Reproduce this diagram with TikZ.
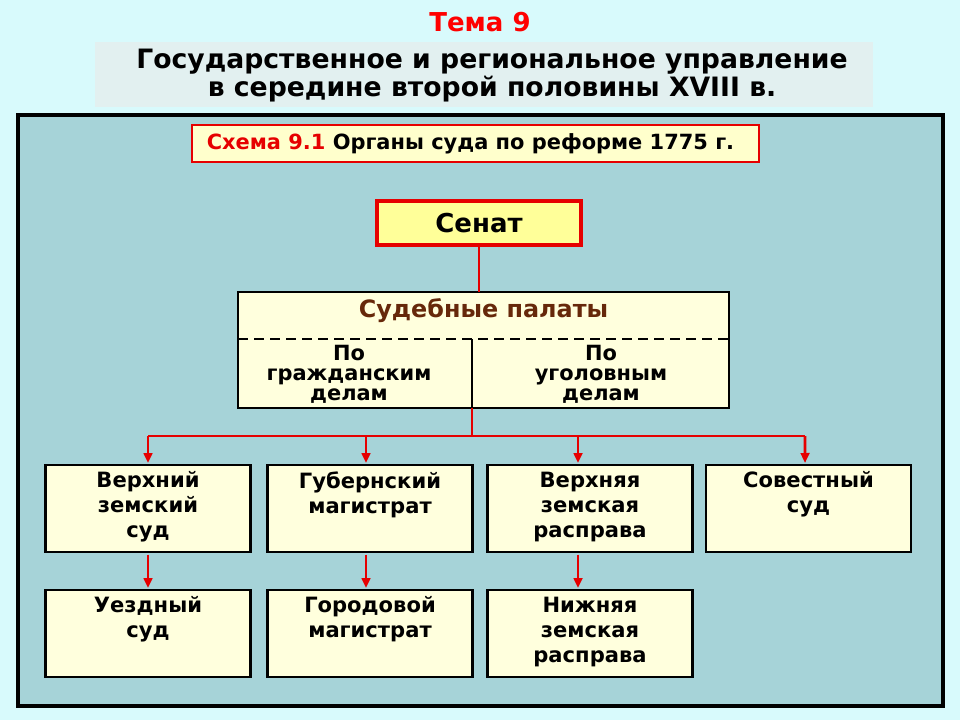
\documentclass[tikz,border=0pt]{standalone}
\usepackage{fontspec}
\setmainfont{DejaVu Sans}
\usetikzlibrary{arrows.meta}
\definecolor{bgc}{RGB}{216,250,252}
\definecolor{hdrc}{RGB}{226,240,240}
\definecolor{mainc}{RGB}{166,211,216}
\definecolor{creamc}{RGB}{255,255,221}
\definecolor{senc}{RGB}{255,255,153}
\definecolor{schc}{RGB}{255,255,204}
\definecolor{redc}{RGB}{230,0,0}
\definecolor{brownc}{RGB}{102,40,10}
\begin{document}
\begin{tikzpicture}[x=0.75pt,y=-0.75pt,
  every node/.style={inner sep=0pt, outer sep=0pt},
  rbox/.style={draw=black, line width=2.2pt, fill=creamc, minimum width=205*0.75pt,
     minimum height=87*0.75pt, align=center, font=\bfseries\fontsize{15.8pt}{18.75pt}\selectfont,
     execute at begin node=\strut, execute at end node=\strut},
  conn/.style={draw=redc, line width=2.2pt},
  arr/.style={conn, -{Triangle[length=7.5pt, width=6.5pt]}}]
\useasboundingbox (0,0) rectangle (960,720);
\fill[bgc] (0,0) rectangle (960,720);
% title
\node[text=red, font=\bfseries\fontsize{19.5pt}{22pt}\selectfont] (tema) at (480,22) {Тема 9};
\node[fill=hdrc, minimum width=778*0.75pt, minimum height=65*0.75pt] (hdr) at (484,74.5) {};
\node[align=center, font=\bfseries\fontsize{20pt}{21pt}\selectfont] (hdrtext) at (492,76) {Государственное и региональное управление\\в середине второй половины XVIII в.};
% main panel
\draw[fill=mainc, line width=2.4pt] (18,115) rectangle (943,706);
% scheme caption
\node[draw=redc, line width=0.8pt, fill=schc, minimum width=567*0.75pt, minimum height=37*0.75pt] (sch) at (475.5,143.5) {};
\node[font=\bfseries\fontsize{15.7pt}{17pt}\selectfont] (schtext) at (470.5,144)
  {\textcolor{redc}{Схема 9.1} Органы суда по реформе 1775 г.};
% Senat
\node[draw=redc, line width=2.4pt, fill=senc, minimum width=204*0.75pt, minimum height=44*0.75pt,
  font=\bfseries\fontsize{19.5pt}{22pt}\selectfont] (senat) at (479,223) {Сенат};
% palaty
\node[draw=black, line width=2.2pt, fill=creamc, minimum width=491*0.75pt, minimum height=116*0.75pt] (pal) at (483.5,350) {};
\node[text=brownc, font=\bfseries\fontsize{17.9pt}{20pt}\selectfont] (paltitle) at (483.5,311) {Судебные палаты};
\coordinate (dl) at (238,339);
\coordinate (dr) at (729,339);
\draw[line width=2.2pt, dash pattern=on 7.5pt off 4.5pt] (dl) -- (dr);
\coordinate (divtop) at (472,339);
\coordinate (divbot) at (472,408);
\draw[line width=2.2pt] (divtop) -- (divbot);
\node[align=center, font=\bfseries\fontsize{15.7pt}{15pt}\selectfont] (civ) at (349,374) {По\\гражданским\\делам};
\node[align=center, font=\bfseries\fontsize{15.7pt}{15pt}\selectfont] (crim) at (601,374) {По\\уголовным\\делам};
% row 1
\node[rbox] (b1) at (148,508.5) {Верхний\\земский\\суд};
\node[rbox] (b2) at (370,508.5) {Губернский\\магистрат\\};
\node[rbox] (b3) at (590,508.5) {Верхняя\\земская\\расправа};
\node[rbox] (b4) at (808.5,508.5) {Совестный\\суд\\};
% row 2
\node[rbox] (c1) at (148,633.5) {Уездный\\суд\\};
\node[rbox] (c2) at (370,633.5) {Городовой\\магистрат\\};
\node[rbox] (c3) at (590,633.5) {Нижняя\\земская\\расправа};
% connectors
\draw[conn] (senat.south) -- (pal.north -| senat.south);
\coordinate (bus) at (472,436);
\coordinate (busl) at (148,436);
\coordinate (bus2) at (366,436);
\coordinate (bus3) at (578,436);
\coordinate (busr) at (805,436);
\draw[conn] (divbot) -- (bus);
\draw[conn] (busl) -- (busr);
\draw[arr] (busl) -- ([yshift=1.5pt]b1.north);
\draw[arr] (bus2) -- ([xshift=-3pt,yshift=1.5pt]b2.north);
\draw[arr] (bus3) -- ([xshift=-9pt,yshift=1.5pt]b3.north);
\draw[arr] (busr) -- ([xshift=-2.6pt,yshift=1.5pt]b4.north);
\draw[arr] ([yshift=-2pt]b1.south) -- ([yshift=1.5pt]c1.north);
\draw[arr] ([xshift=-3pt,yshift=-2pt]b2.south) -- ([xshift=-3pt,yshift=1.5pt]c2.north);
\draw[arr] ([xshift=-9pt,yshift=-2pt]b3.south) -- ([xshift=-9pt,yshift=1.5pt]c3.north);
\end{tikzpicture}
\end{document}
